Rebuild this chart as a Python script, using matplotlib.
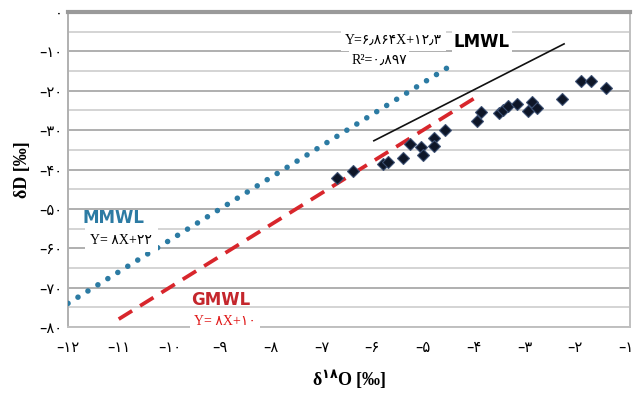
import matplotlib
matplotlib.use('Agg')
import matplotlib.pyplot as plt
from matplotlib.ticker import MultipleLocator, FuncFormatter

plt.rcParams['mathtext.fontset'] = 'dejavusans'

# Persian digits used in tick labels and annotations
FA_DIGITS = str.maketrans('0123456789.', '۰۱۲۳۴۵۶۷۸۹٫')

# Measured samples (δ18O, δD)
d18o = [-6.69, -6.39, -5.79, -5.69, -5.40, -5.25, -5.05, -5.01, -4.79, -4.79,
        -4.57, -3.94, -3.86, -3.51, -3.43, -3.33, -3.15, -2.94, -2.86, -2.76,
        -2.27, -1.89, -1.69, -1.40]
dD = [-42.2, -40.5, -38.7, -38.0, -37.1, -33.5, -34.3, -36.3, -32.1, -34.0,
      -29.9, -27.7, -25.3, -25.7, -24.9, -23.9, -23.4, -25.1, -22.8, -24.4,
      -22.2, -17.4, -17.4, -19.4]

# Meteoric water lines, end points as drawn
mmwl_x = [-12.0, -4.4]
mmwl_y = [-74.0, -13.2]
gmwl_x = [-11.0, -3.95]
gmwl_y = [-78.0, -21.6]
lmwl_x = [-5.97, -2.22]
lmwl_y = [-32.7, -8.1]

X_TICKS = list(range(-12, 0))
Y_TICKS = list(range(-80, 1, 10))

BLUE = '#2c7ba3'
RED = '#d8262c'
SERIF = ['Liberation Serif', 'DejaVu Sans']


def fa(v):
    s = str(abs(v)).translate(FA_DIGITS)
    return ('\u2013' + s) if v < 0 else s


fig = plt.figure(figsize=(6.33, 3.94), dpi=100)
ax = fig.add_axes([68 / 633, 1 - 327 / 394, 562 / 633, 315 / 394])

ax.plot(mmwl_x, mmwl_y, color=BLUE, linewidth=4.0,
        linestyle=(0, (0.01, 2.1)), dash_capstyle='round', zorder=3)
ax.plot(gmwl_x, gmwl_y, color=RED, linewidth=2.7,
        linestyle=(0, (4.2, 2.5)), zorder=3)
ax.plot(lmwl_x, lmwl_y, color='#111111', linewidth=1.2, zorder=3)
ax.plot(d18o, dD, linestyle='none', marker='D', markersize=6.5,
        color='#0e1628', markeredgecolor='#3b4f72', markeredgewidth=0.8,
        zorder=4)

ax.set_xlim(-12, -0.92)
ax.set_ylim(-80, 0)

ax.set_xticks(X_TICKS)
ax.set_yticks(Y_TICKS)
ax.yaxis.set_minor_locator(MultipleLocator(5))
ax.xaxis.set_major_formatter(FuncFormatter(lambda v, p: fa(int(round(v)))))
ax.yaxis.set_major_formatter(FuncFormatter(lambda v, p: fa(int(round(v)))))
ax.tick_params(axis='y', which='both', length=0, pad=4, labelsize=10.5)
ax.tick_params(axis='x', which='both', length=0, pad=9, labelsize=10.5)
for lab in ax.get_xticklabels() + ax.get_yticklabels():
    lab.set_fontfamily('DejaVu Sans')

# Set the chart layout
ax.grid(True, axis='y', which='major', color='#a9a9a9', linewidth=1.3)
ax.grid(True, axis='y', which='minor', color='#c9c9c9', linewidth=1.1)
ax.grid(False, axis='x')
ax.set_axisbelow(True)
for side, c, w in [('top', '#9a9a9a', 3.0), ('left', '#b0b0b0', 1.4),
                   ('bottom', '#c0c0c0', 1.4), ('right', '#c0c0c0', 1.4)]:
    ax.spines[side].set_color(c)
    ax.spines[side].set_linewidth(w)

ax.set_ylabel('δD [‰]', fontsize=13, fontweight='bold', family=SERIF,
              labelpad=6)
ax.set_xlabel('δ$^{\\mathbf{۱۸}}$O [‰]', fontsize=13, fontweight='bold',
              family=SERIF, labelpad=10)

box = dict(facecolor='white', edgecolor='none', pad=1.5)
ax.text(-3.84, -7.6, 'LMWL', fontsize=12, fontweight='bold',
        family='DejaVu Sans', ha='center', va='center', bbox=box, zorder=5)
ax.text(-5.58, -7.2, 'Y=' + '6.864'.translate(FA_DIGITS) + 'X+' +
        '12.3'.translate(FA_DIGITS), fontsize=10, family=SERIF,
        ha='center', va='center', zorder=5,
        bbox=dict(facecolor='white', edgecolor='none', pad=3))
ax.text(-5.87, -12.2, 'R' + '²' + '=' + '0.897'.translate(FA_DIGITS),
        fontsize=10, family=SERIF, ha='center', va='center', zorder=5,
        bbox=box)
ax.text(-11.1, -52.3, 'MMWL', fontsize=12, fontweight='bold', color=BLUE,
        family='DejaVu Sans', ha='center', va='center', zorder=5)
ax.text(-10.95, -58.0, 'Y= ' + '8'.translate(FA_DIGITS) + 'X+' +
        '22'.translate(FA_DIGITS), fontsize=10, family=SERIF,
        ha='center', va='center', zorder=5,
        bbox=dict(facecolor='white', edgecolor='none', pad=4))
ax.text(-8.98, -73.2, 'GMWL', fontsize=12, fontweight='bold', color='#c4262c',
        family='DejaVu Sans', ha='center', va='center', zorder=5)
ax.text(-8.9, -78.6, 'Y= ' + '8'.translate(FA_DIGITS) + 'X+' +
        '10'.translate(FA_DIGITS), fontsize=10, family=SERIF, color='#e01818',
        ha='center', va='center', zorder=5,
        bbox=dict(facecolor='white', edgecolor='none', pad=3))

fig.savefig('out.png', dpi=100)
